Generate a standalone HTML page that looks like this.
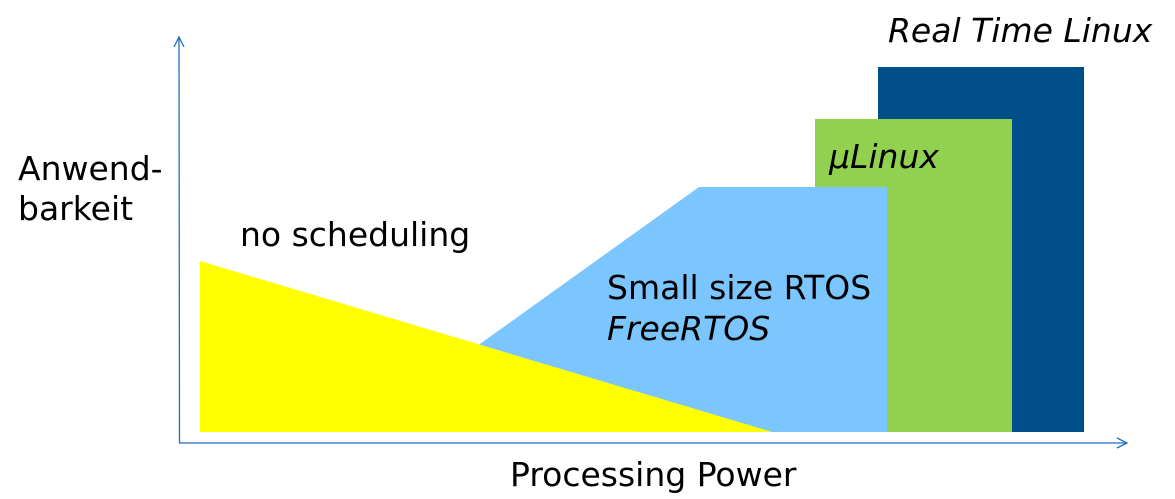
<!DOCTYPE html>
<html><head><meta charset="utf-8"><style>html,body{margin:0;padding:0;background:#fff;}svg{display:block}</style></head>
<body>
<svg width="1175" height="499" viewBox="0 0 1175 499" xmlns="http://www.w3.org/2000/svg" font-family="DejaVu Sans, Liberation Sans, sans-serif" font-size="33" fill="#000">
<rect x="878" y="67" width="206" height="365" fill="#004f8a"/>
<rect x="815" y="119" width="197" height="313" fill="#92d050"/>
<polygon points="357,432 699,187 887,187 887,432" fill="#7cc6ff"/>
<polygon points="200,261 200,432 772,432" fill="#ffff00"/>
<g stroke="#1f6fbf" stroke-width="1.3" fill="none">
<line x1="179" y1="37" x2="179.5" y2="443"/>
<line x1="179" y1="443" x2="1127" y2="443"/>
<polyline points="174,47 179,37 184,47"/>
<polyline points="1117,438 1127,443 1117,448"/>
</g>
<text x="888" y="42" font-style="italic">Real Time Linux</text>
<text x="829" y="168" font-style="italic">µLinux</text>
<text x="18" y="180">Anwend-</text>
<text x="18" y="220">barkeit</text>
<text x="240" y="246">no scheduling</text>
<text x="607" y="299">Small size RTOS</text>
<text x="607" y="340" font-style="italic">FreeRTOS</text>
<text x="510" y="486">Processing Power</text>
</svg>
</body></html>
